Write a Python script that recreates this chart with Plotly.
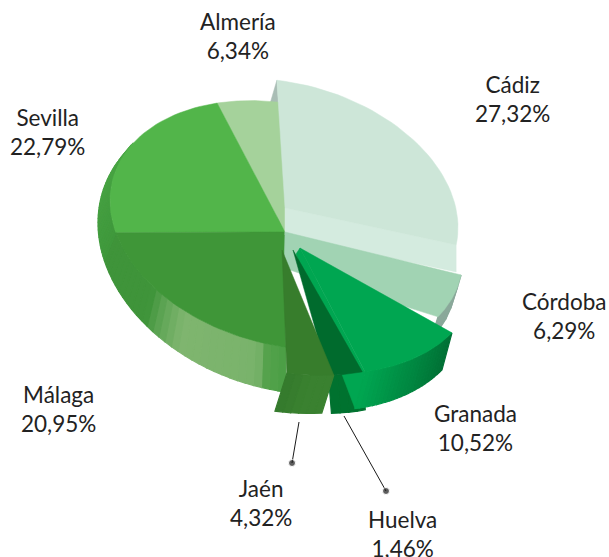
import math
import plotly.graph_objects as go

# ---- data ----
categories = ["Cádiz", "Córdoba", "Granada", "Huelva", "Jaén", "Málaga", "Sevilla", "Almería"]
values = [27.32, 6.29, 10.52, 1.46, 4.32, 20.95, 22.79, 6.34]

# ---- style: one entry per category ----
face_colors = ["#cde6d8", "#a1d3b3", "#00a651", "#006b2d", "#377d2c", "#3f9638", "#52b54a", "#a5d29b"]
apexes = [(285, 208), (285, 232), (300, 248), (293, 250), (282, 250), (285, 232), (285, 232), (285, 232)]
rim_shift = [(-2, -22), (3, 8), (17, 24), (3, 26), (1, 26), (0, 0), (0, 0), (0, 0)]
wall_shift = [(0, 27), (-7, 22), (-10, 37), (3, 38), (-12, 38), None, None, None]
angle_pad = [(2, 0), (0, 0), (0, 0), (4, 2.5), (0, 0), (0, 0), (0, 0), (0, 0)]
label_pos = [(512, 99), (564, 316), (475, 428), (402, 534), (261, 503), (58, 409), (47, 132), (238, 36)]

# ---- ellipse that the slices lie on ----
CX, CY, RX, RY, SHEAR = 285, 225, 175, 122, 0.14
LOW_CX, LOW_CY, LOW_RX, LOW_RY = 285, 249, 187, 143

def rim(theta, cx=CX, cy=CY, rx=RX, ry=RY):
    a = math.radians(theta)
    dx = rx * math.sin(a)
    return cx + dx, cy - ry * math.cos(a) + SHEAR * dx

def arc(t0, t1, n=40, **kw):
    return [rim(t0 + (t1 - t0) * i / n, **kw) for i in range(n + 1)]

def hex2rgb(h):
    return tuple(int(h[i:i + 2], 16) for i in (1, 3, 5))

def ramp(stops, t):
    if t <= stops[0][0]:
        return stops[0][1]
    for (a, ca), (b, cb) in zip(stops, stops[1:]):
        if a <= t <= b:
            f = (t - a) / (b - a) if b > a else 0
            c0, c1 = hex2rgb(ca), hex2rgb(cb)
            return "rgb(%d,%d,%d)" % tuple(round(x + (y - x) * f) for x, y in zip(c0, c1))
    return stops[-1][1]

total = sum(values)
angles = {}
acc = 0.0
for i, (name, v) in enumerate(zip(categories, values)):
    angles[name] = (acc / total * 360 - angle_pad[i][0], (acc + v) / total * 360 + angle_pad[i][1])
    acc += v
idx = {n: i for i, n in enumerate(categories)}

fig = go.Figure()

def poly(pts, color, name, lw=0.5):
    fig.add_trace(go.Scatter(
        x=[p[0] for p in pts] + [pts[0][0]], y=[p[1] for p in pts] + [pts[0][1]],
        mode="lines", fill="toself", fillcolor=color, line=dict(color=color, width=lw),
        name=name, hoverinfo="name", showlegend=False))

def shifted_rim(name):
    i = idx[name]
    t0, t1 = angles[name]
    sx, sy = rim_shift[i]
    return [(x + sx, y + sy) for x, y in arc(t0, t1)]

def face(name, extra=()):
    i = idx[name]
    poly([apexes[i]] + shifted_rim(name) + list(extra), face_colors[i], name)

def wall(name, stops, n=24):
    i = idx[name]
    t0, t1 = angles[name]
    sx, sy = rim_shift[i]
    wx, wy = wall_shift[i]
    for k in range(n):
        a, b = t0 + (t1 - t0) * k / n, t0 + (t1 - t0) * (k + 1) / n
        top = [(x + sx, y + sy) for x, y in arc(a, b, n=3)]
        low = [(x + wx, y + wy) for x, y in reversed(top)]
        poly(top + low, ramp(stops, (a + b) / 2), name, lw=1.2)

def outer_wall(name, stops, t_end=None, n=30):
    t0, t1 = angles[name]
    t1 = t_end if t_end else t1
    for k in range(n):
        a, b = t0 + (t1 - t0) * k / n, t0 + (t1 - t0) * (k + 1) / n
        top = arc(a, b, n=3)
        low = list(reversed(arc(a, b, n=3, cx=LOW_CX, cy=LOW_CY, rx=LOW_RX, ry=LOW_RY)))
        poly(top + low, ramp(stops, (a + b) / 2), name, lw=1.2)

# back sliver behind the raised Cádiz slice
tip = shifted_rim("Cádiz")[0]
ca = apexes[idx["Cádiz"]]
poly([tip, (tip[0] - 7, tip[1] + 24), (ca[0] - 7, ca[1] + 24), ca], "#a9bdb5", "Cádiz")

# outer walls of the main body
outer_wall("Málaga", [(180, "#4a9f45"), (186, "#55a24c"), (189, "#79b36b"), (215, "#7fb56f"),
                      (223, "#5fa555"), (229, "#3f943a"), (255, "#3f943a")])
outer_wall("Sevilla", [(255, "#3f983c"), (300, "#4aa645")], t_end=300)

face("Almería")
face("Sevilla")
face("Málaga")

# raised Cádiz slice: pale band under its lower edge, then its face
c_i = idx["Cádiz"]
c_end = shifted_rim("Cádiz")[-1]
c_drop = wall_shift[c_i][1]
poly([ca, c_end, (c_end[0], c_end[1] + c_drop), (ca[0], ca[1] + c_drop)], "#d4ebdf", "Cádiz")
face("Cádiz")

wall("Córdoba", [(0, "#8aa89a"), (360, "#8aa89a")], n=4)
face("Córdoba", extra=[(296, 272), (284, 268)])

wall("Huelva", [(0, "#00722f"), (360, "#00722f")], n=4)

# Granada: lip, outer wall, face
g_i = idx["Granada"]
g_rim = shifted_rim("Granada")
gw = wall_shift[g_i]
poly([apexes[g_i], g_rim[-1], (g_rim[-1][0] + gw[0], g_rim[-1][1] + gw[1]),
      (apexes[g_i][0] - 4, apexes[g_i][1] + 6)], "#00a651", "Granada")
wall("Granada", [(121, "#006f35"), (130, "#007a3a"), (145, "#008f45"), (159, "#00a651")])
face("Granada")

face("Huelva")

wall("Jaén", [(160, "#3a8130"), (172, "#3a8130"), (180, "#34792c")], n=6)
face("Jaén")

# leader lines with end dots
for start, end in [((299, 422), (292, 463)), ((344, 416), (386, 491))]:
    fig.add_trace(go.Scatter(
        x=[start[0], end[0]], y=[start[1], end[1]], mode="lines+markers",
        line=dict(color="#1a1a1a", width=1),
        marker=dict(color="#1a1a1a", size=[0, 7]),
        hoverinfo="skip", showlegend=False))

annotations = []
for name, v, (lx, ly) in zip(categories, values, label_pos):
    annotations.append(dict(
        x=lx, y=ly, xref="x", yref="y", showarrow=False, align="center",
        text=f"{name}<br>{v:.2f}%".replace(".", ","),
        font=dict(family="Lato", size=22.5, color="#222222")))

fig.update_layout(
    width=609, height=557, margin=dict(l=0, r=0, t=0, b=0),
    paper_bgcolor="white", plot_bgcolor="white", showlegend=False,
    xaxis=dict(range=[0, 609], visible=False, fixedrange=True),
    yaxis=dict(range=[557, 0], visible=False, fixedrange=True),
    annotations=annotations)

fig.write_html("out.html", config={"displayModeBar": False},
               post_script="document.body.style.margin='0';document.body.style.overflow='hidden';")
